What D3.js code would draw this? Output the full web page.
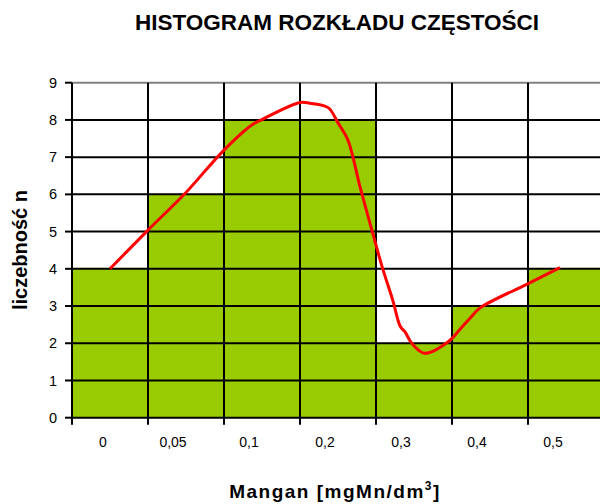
<!DOCTYPE html>
<html>
<head>
<meta charset="utf-8">
<script src="https://cdn.jsdelivr.net/npm/d3@7"></script>
<style>
  body { margin: 0; background: #fff; }
  svg { display: block; font-family: "Liberation Sans", Arial, sans-serif; }
</style>
</head>
<body>
<svg id="chart" width="600" height="504"></svg>
<script>
// histogram categories and counts
const categories = ["0", "0,05", "0,1", "0,2", "0,3", "0,4", "0,5"];
const counts = [4, 6, 8, 8, 2, 3, 4];
const yTicks = [0, 1, 2, 3, 4, 5, 6, 7, 8, 9];

// red smoothed curve, x in category units (0 = left edge of first bar)
const curveX = [0.5, 1.0, 1.49, 2.0, 2.37, 2.47, 3.0, 3.13, 3.37, 3.5, 3.63, 3.79, 3.92, 4.08, 4.22, 4.32, 4.38, 4.47, 4.64, 4.95, 5.1, 5.24, 5.37, 5.99, 6.42];
const curveY = [4.0, 5.04, 6.03, 7.19, 7.87, 7.98, 8.47, 8.45, 8.33, 7.92, 7.46, 6.2, 5.23, 4.06, 3.16, 2.45, 2.31, 2.0, 1.73, 2.04, 2.36, 2.68, 2.95, 3.59, 4.03];

const svg = d3.select('#chart');
const plotLeft = 72, plotRight = 604, plotTop = 82.7, plotBottom = 417.7;

const x = d3.scaleBand().domain(categories).range([plotLeft, plotRight]).padding(0);
const xPos = d3.scaleLinear().domain([0, categories.length]).range([plotLeft, plotRight]);
const y = d3.scaleLinear().domain([0, 9]).range([plotBottom, plotTop]);

// bars
svg.append('g')
  .selectAll('rect')
  .data(counts)
  .join('rect')
    .attr('x', (d, i) => x(categories[i]))
    .attr('y', d => y(d))
    .attr('width', x.bandwidth())
    .attr('height', d => y(0) - y(d))
    .attr('fill', '#99cc00');

// horizontal gridlines
svg.append('g')
  .selectAll('line')
  .data(yTicks.filter(t => t > 0))
  .join('line')
    .attr('x1', plotLeft).attr('x2', plotRight)
    .attr('y1', d => y(d)).attr('y2', d => y(d))
    .attr('stroke', d => d === 9 ? '#808080' : '#000')
    .attr('stroke-width', 2);

// vertical gridlines at bar boundaries
const bounds = d3.range(categories.length + 1).map(i => xPos(i));
svg.append('g')
  .selectAll('line')
  .data(bounds)
  .join('line')
    .attr('x1', d => d).attr('x2', d => d)
    .attr('y1', plotTop).attr('y2', plotBottom + 7)
    .attr('stroke', '#000')
    .attr('stroke-width', 2);

// x axis line
svg.append('line')
  .attr('x1', plotLeft).attr('x2', plotRight)
  .attr('y1', plotBottom).attr('y2', plotBottom)
  .attr('stroke', '#000').attr('stroke-width', 2);

// y ticks + labels
const yg = svg.append('g');
yg.selectAll('line')
  .data(yTicks)
  .join('line')
    .attr('x1', plotLeft - 7).attr('x2', plotLeft)
    .attr('y1', d => y(d)).attr('y2', d => y(d))
    .attr('stroke', '#000').attr('stroke-width', 2);
yg.selectAll('text')
  .data(yTicks)
  .join('text')
    .attr('x', 57)
    .attr('y', d => y(d))
    .attr('dy', '0.35em')
    .attr('text-anchor', 'end')
    .attr('font-size', 14.5)
    .text(d => d);

// x labels
svg.append('g')
  .selectAll('text')
  .data(categories)
  .join('text')
    .attr('x', (d, i) => x(d) + (i === 0 ? 31 : 25))
    .attr('y', 447)
    .attr('text-anchor', 'middle')
    .attr('font-size', 14)
    .text(d => d);

// red curve
const line = d3.line()
  .x(d => xPos(d[0]))
  .y(d => y(d[1]))
  .curve(d3.curveCatmullRom.alpha(0.5));

svg.append('path')
  .datum(curveX.map((v, i) => [v, curveY[i]]))
  .attr('d', line)
  .attr('fill', 'none')
  .attr('stroke', '#ff0000')
  .attr('stroke-width', 3)
  .attr('stroke-linejoin', 'round');

// titles
svg.append('text')
  .attr('x', 337).attr('y', 30)
  .attr('text-anchor', 'middle')
  .attr('font-size', 22.5)
  .attr('font-weight', 'bold')
  .text('HISTOGRAM ROZKŁADU CZĘSTOŚCI');

svg.append('text')
  .attr('transform', 'translate(27,250) rotate(-90)')
  .attr('text-anchor', 'middle')
  .attr('font-size', 20)
  .attr('font-weight', 'bold')
  .text('liczebność n');

const xt = svg.append('text')
  .attr('x', 335).attr('y', 498)
  .attr('text-anchor', 'middle')
  .attr('font-size', 19)
  .attr('font-weight', 'bold')
  .attr('letter-spacing', 1.5);
xt.append('tspan').text('Mangan [mgMn/dm');
xt.append('tspan').attr('dy', -8).attr('font-size', 12).text('3');
xt.append('tspan').attr('dy', 8).text(']');
</script>
</body>
</html>
